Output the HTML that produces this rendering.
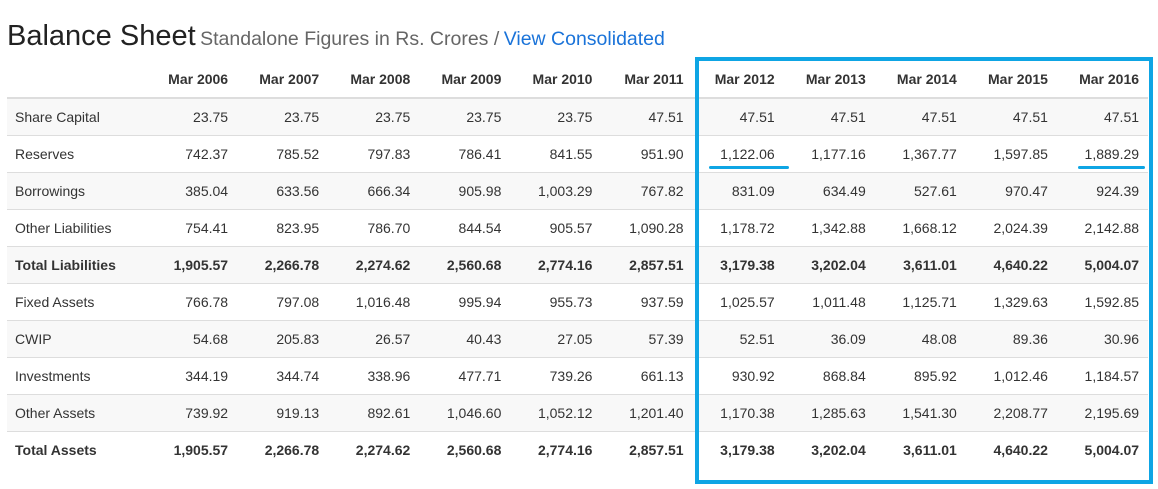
<!DOCTYPE html>
<html><head><meta charset="utf-8"><style>
body{margin:0;width:1158px;height:489px;background:#fff;font-family:"Liberation Sans",sans-serif;color:#333;position:relative;overflow:hidden}
#title{position:absolute;left:7px;top:20px;white-space:nowrap}
#title .h{font-size:29px;color:#222}
#title .s{font-size:19.5px;color:#666}
#title a{font-size:19.5px;color:#1a73d9;text-decoration:none}
table{position:absolute;left:7px;top:61px;width:1141px;border-collapse:collapse;table-layout:fixed;font-size:14px}
th,td{height:36px;padding:0 9px 0 8px;text-align:right;border-top:1px solid #ddd;white-space:nowrap}
th{height:36px;border-top:none;border-bottom:2px solid #ddd;font-weight:bold;color:#333}
td:first-child{text-align:left}
tbody tr:nth-child(odd){background:#f8f8f8}
tr.b td{font-weight:bold}
#box{position:absolute;left:695px;top:57px;width:450px;height:419px;border:4px solid #0ea5e4}
.ul{position:absolute;height:3px;background:#0ea5e4;border-radius:2px;top:166px}
</style></head><body>
<div id="title"><span class="h">Balance Sheet</span> <span class="s">Standalone Figures in Rs. Crores /</span> <a>View Consolidated</a></div>
<table>
<colgroup><col style="width:139px"><col span="11" style="width:91.1px"></colgroup>
<thead><tr><th></th><th>Mar 2006</th><th>Mar 2007</th><th>Mar 2008</th><th>Mar 2009</th><th>Mar 2010</th><th>Mar 2011</th><th>Mar 2012</th><th>Mar 2013</th><th>Mar 2014</th><th>Mar 2015</th><th>Mar 2016</th></tr></thead>
<tbody>
<tr><td>Share Capital</td><td>23.75</td><td>23.75</td><td>23.75</td><td>23.75</td><td>23.75</td><td>47.51</td><td>47.51</td><td>47.51</td><td>47.51</td><td>47.51</td><td>47.51</td></tr>
<tr><td>Reserves</td><td>742.37</td><td>785.52</td><td>797.83</td><td>786.41</td><td>841.55</td><td>951.90</td><td>1,122.06</td><td>1,177.16</td><td>1,367.77</td><td>1,597.85</td><td>1,889.29</td></tr>
<tr><td>Borrowings</td><td>385.04</td><td>633.56</td><td>666.34</td><td>905.98</td><td>1,003.29</td><td>767.82</td><td>831.09</td><td>634.49</td><td>527.61</td><td>970.47</td><td>924.39</td></tr>
<tr><td>Other Liabilities</td><td>754.41</td><td>823.95</td><td>786.70</td><td>844.54</td><td>905.57</td><td>1,090.28</td><td>1,178.72</td><td>1,342.88</td><td>1,668.12</td><td>2,024.39</td><td>2,142.88</td></tr>
<tr class="b"><td>Total Liabilities</td><td>1,905.57</td><td>2,266.78</td><td>2,274.62</td><td>2,560.68</td><td>2,774.16</td><td>2,857.51</td><td>3,179.38</td><td>3,202.04</td><td>3,611.01</td><td>4,640.22</td><td>5,004.07</td></tr>
<tr><td>Fixed Assets</td><td>766.78</td><td>797.08</td><td>1,016.48</td><td>995.94</td><td>955.73</td><td>937.59</td><td>1,025.57</td><td>1,011.48</td><td>1,125.71</td><td>1,329.63</td><td>1,592.85</td></tr>
<tr><td>CWIP</td><td>54.68</td><td>205.83</td><td>26.57</td><td>40.43</td><td>27.05</td><td>57.39</td><td>52.51</td><td>36.09</td><td>48.08</td><td>89.36</td><td>30.96</td></tr>
<tr><td>Investments</td><td>344.19</td><td>344.74</td><td>338.96</td><td>477.71</td><td>739.26</td><td>661.13</td><td>930.92</td><td>868.84</td><td>895.92</td><td>1,012.46</td><td>1,184.57</td></tr>
<tr><td>Other Assets</td><td>739.92</td><td>919.13</td><td>892.61</td><td>1,046.60</td><td>1,052.12</td><td>1,201.40</td><td>1,170.38</td><td>1,285.63</td><td>1,541.30</td><td>2,208.77</td><td>2,195.69</td></tr>
<tr class="b"><td>Total Assets</td><td>1,905.57</td><td>2,266.78</td><td>2,274.62</td><td>2,560.68</td><td>2,774.16</td><td>2,857.51</td><td>3,179.38</td><td>3,202.04</td><td>3,611.01</td><td>4,640.22</td><td>5,004.07</td></tr>
</tbody></table>
<div id="box"></div>
<div class="ul" style="left:709px;width:80px"></div>
<div class="ul" style="left:1078px;width:67px"></div>
</body></html>
